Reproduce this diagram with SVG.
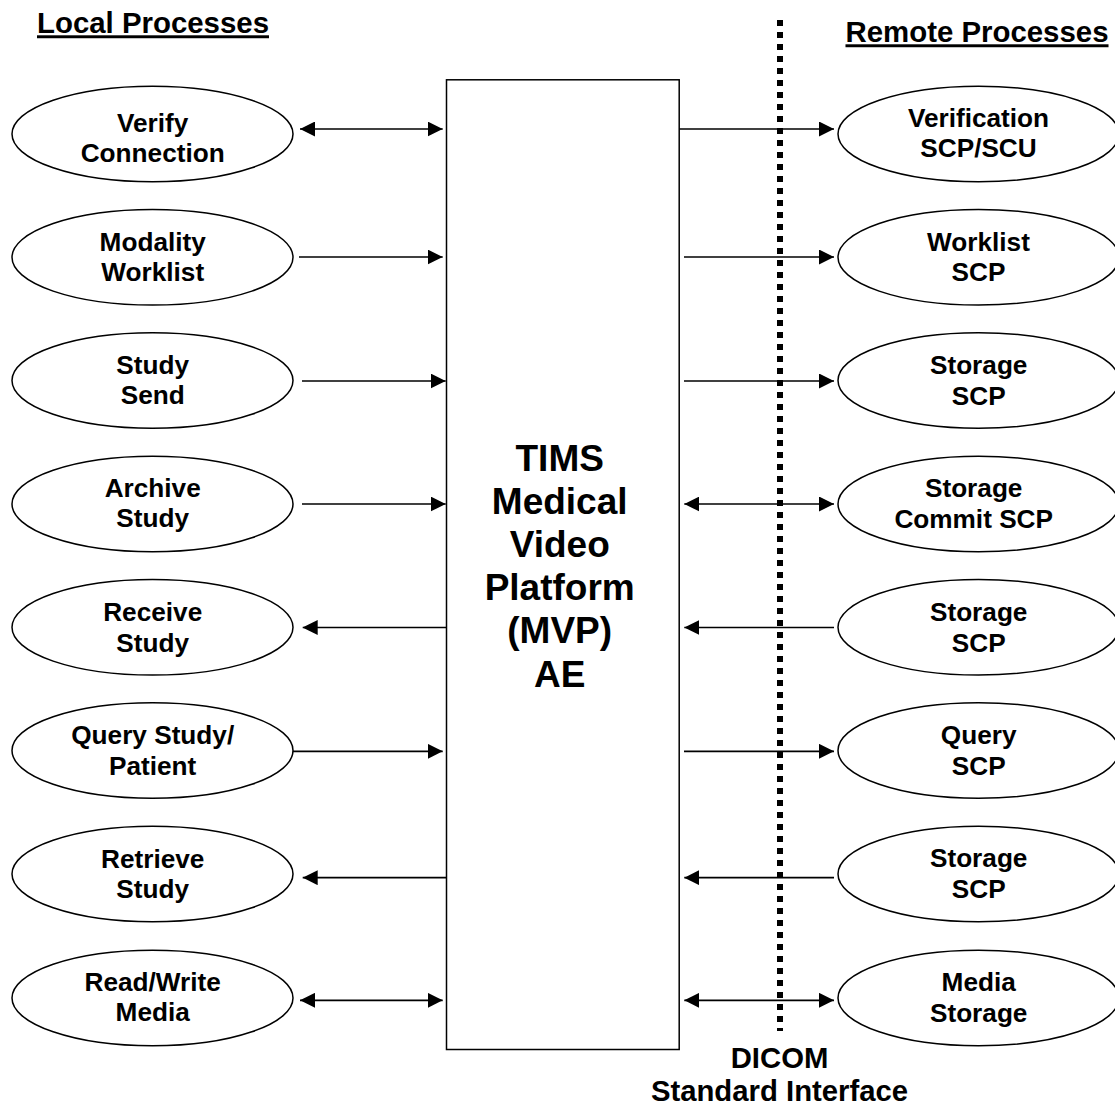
<svg xmlns="http://www.w3.org/2000/svg" width="1115" height="1105" viewBox="0 0 1115 1105">
<style>
text{font-family:"Liberation Sans",Arial,sans-serif;font-weight:bold;fill:#000;text-anchor:middle}
.n{font-size:26.200px}
.h{font-size:29.400px;text-decoration:underline}
.l{font-size:29.300px}
.t{font-size:37px}
ellipse,rect{fill:#fff;stroke:#000;stroke-width:1.5}
.c line{stroke:#000;stroke-width:1.7}
.d{stroke:#000;stroke-width:6;stroke-dasharray:6 6;fill:none}
</style>
<defs>
<marker id="a" markerUnits="userSpaceOnUse" markerWidth="15" markerHeight="15" refX="15" refY="7.500" orient="auto-start-reverse"><path d="M0 0L15 7.500L0 15Z" fill="#000"/></marker>
</defs>
<rect width="1115" height="1105" style="fill:#fff;stroke:none"/>
<g id="headers">
<text class="h" x="153" y="33.300">Local Processes</text>
<text class="h" x="977" y="42.300">Remote Processes</text>
</g>
<g id="mvp"><rect x="446.500" y="79.800" width="232.700" height="969.700"/>
<text class="t"><tspan x="559.700" y="471">TIMS</tspan><tspan x="559.700" y="514.300">Medical</tspan><tspan x="559.700" y="557.300">Video</tspan><tspan x="559.700" y="600.300">Platform</tspan><tspan x="559.700" y="643.300">(MVP)</tspan><tspan x="559.700" y="686.500">AE</tspan></text></g>
<g id="boundary"><path class="d" d="M780 20V1031"/></g>
<g id="local">
<g id="l1"><ellipse cx="152.500" cy="134" rx="140.500" ry="47.800"/><text class="n"><tspan x="152.700" y="131.700">Verify</tspan><tspan x="152.700" y="161.700">Connection</tspan></text></g>
<g id="l2"><ellipse cx="152.500" cy="257.300" rx="140.500" ry="47.800"/><text class="n"><tspan x="152.700" y="250.700">Modality</tspan><tspan x="152.700" y="280.700">Worklist</tspan></text></g>
<g id="l3"><ellipse cx="152.500" cy="380.500" rx="140.500" ry="47.800"/><text class="n"><tspan x="152.700" y="373.500">Study</tspan><tspan x="152.700" y="404.300">Send</tspan></text></g>
<g id="l4"><ellipse cx="152.500" cy="504" rx="140.500" ry="47.800"/><text class="n"><tspan x="152.700" y="496.700">Archive</tspan><tspan x="152.700" y="527.300">Study</tspan></text></g>
<g id="l5"><ellipse cx="152.500" cy="627.300" rx="140.500" ry="47.800"/><text class="n"><tspan x="152.700" y="620.700">Receive</tspan><tspan x="152.700" y="651.500">Study</tspan></text></g>
<g id="l6"><ellipse cx="152.500" cy="750.500" rx="140.500" ry="47.800"/><text class="n"><tspan x="152.700" y="744">Query Study/</tspan><tspan x="152.700" y="775">Patient</tspan></text></g>
<g id="l7"><ellipse cx="152.500" cy="874" rx="140.500" ry="47.800"/><text class="n"><tspan x="152.700" y="867.500">Retrieve</tspan><tspan x="152.700" y="898.300">Study</tspan></text></g>
<g id="l8"><ellipse cx="152.500" cy="998" rx="140.500" ry="47.800"/><text class="n"><tspan x="152.700" y="991">Read/Write</tspan><tspan x="152.700" y="1021">Media</tspan></text></g>
</g>
<g id="remote">
<g id="r1"><ellipse cx="978.500" cy="134" rx="140.500" ry="47.800"/><text class="n"><tspan x="978.500" y="126.700">Verification</tspan><tspan x="978.500" y="157.300">SCP/SCU</tspan></text></g>
<g id="r2"><ellipse cx="978.500" cy="257.300" rx="140.500" ry="47.800"/><text class="n"><tspan x="978.500" y="250.700">Worklist</tspan><tspan x="978.500" y="280.700">SCP</tspan></text></g>
<g id="r3"><ellipse cx="978.500" cy="380.500" rx="140.500" ry="47.800"/><text class="n"><tspan x="978.700" y="374">Storage</tspan><tspan x="978.700" y="405">SCP</tspan></text></g>
<g id="r4"><ellipse cx="978.500" cy="504" rx="140.500" ry="47.800"/><text class="n"><tspan x="973.700" y="496.700">Storage</tspan><tspan x="973.700" y="527.700">Commit SCP</tspan></text></g>
<g id="r5"><ellipse cx="978.500" cy="627.300" rx="140.500" ry="47.800"/><text class="n"><tspan x="978.700" y="620.700">Storage</tspan><tspan x="978.700" y="651.500">SCP</tspan></text></g>
<g id="r6"><ellipse cx="978.500" cy="750.500" rx="140.500" ry="47.800"/><text class="n"><tspan x="978.700" y="744">Query</tspan><tspan x="978.700" y="775">SCP</tspan></text></g>
<g id="r7"><ellipse cx="978.500" cy="874" rx="140.500" ry="47.800"/><text class="n"><tspan x="978.700" y="867">Storage</tspan><tspan x="978.700" y="897.700">SCP</tspan></text></g>
<g id="r8"><ellipse cx="978.500" cy="998" rx="140.500" ry="47.800"/><text class="n"><tspan x="978.700" y="990.700">Media</tspan><tspan x="978.700" y="1021.700">Storage</tspan></text></g>
</g>
<g id="label"><text class="l"><tspan x="779.500" y="1067.700">DICOM</tspan><tspan x="779.500" y="1101">Standard Interface</tspan></text></g>
<g id="connectors" class="c">
<line x1="300" y1="129" x2="442.700" y2="129" marker-start="url(#a)" marker-end="url(#a)"/>
<line x1="299" y1="257" x2="442.700" y2="257" marker-end="url(#a)"/>
<line x1="302" y1="381" x2="445.700" y2="381" marker-end="url(#a)"/>
<line x1="302" y1="504" x2="445.700" y2="504" marker-end="url(#a)"/>
<line x1="446.500" y1="627.500" x2="302.700" y2="627.500" marker-end="url(#a)"/>
<line x1="293" y1="751.300" x2="442.700" y2="751.300" marker-end="url(#a)"/>
<line x1="446.500" y1="877.700" x2="302.700" y2="877.700" marker-end="url(#a)"/>
<line x1="300" y1="1000.300" x2="442.700" y2="1000.300" marker-start="url(#a)" marker-end="url(#a)"/>
<line x1="679" y1="129" x2="834" y2="129" marker-end="url(#a)"/>
<line x1="684" y1="257" x2="834" y2="257" marker-end="url(#a)"/>
<line x1="684" y1="381" x2="834" y2="381" marker-end="url(#a)"/>
<line x1="684.300" y1="504" x2="834" y2="504" marker-start="url(#a)" marker-end="url(#a)"/>
<line x1="834" y1="627.500" x2="684.300" y2="627.500" marker-end="url(#a)"/>
<line x1="684" y1="751.300" x2="834" y2="751.300" marker-end="url(#a)"/>
<line x1="834" y1="877.700" x2="684.300" y2="877.700" marker-end="url(#a)"/>
<line x1="684.300" y1="1000.300" x2="834" y2="1000.300" marker-start="url(#a)" marker-end="url(#a)"/>
</g>
</svg>
